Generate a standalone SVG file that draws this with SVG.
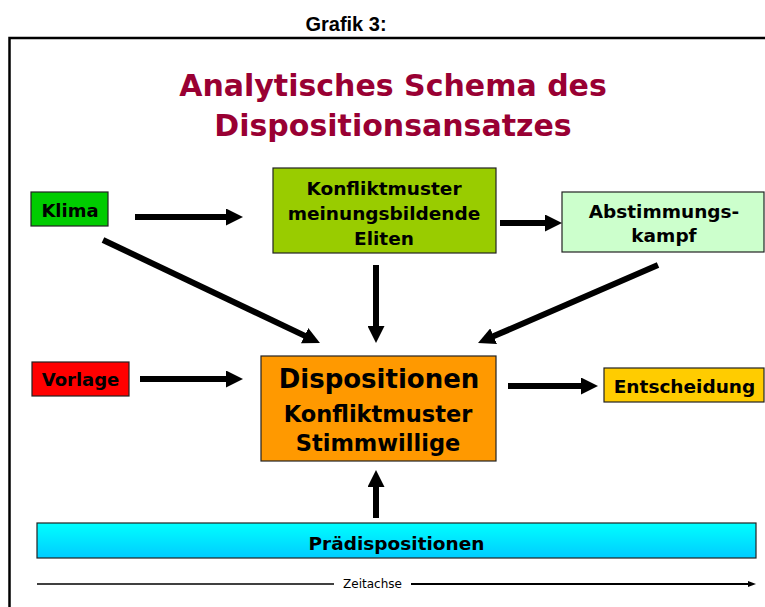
<svg xmlns="http://www.w3.org/2000/svg" width="765" height="607" viewBox="0 0 765 607">
<style>
.box{stroke:#222;stroke-width:1.2}
.t{font-family:"DejaVu Sans",Verdana,sans-serif;font-weight:bold;fill:#000;text-anchor:middle}
.arr{stroke:#000;stroke-width:6;fill:none;marker-end:url(#ah)}
</style>
<defs>
<marker id="ah" viewBox="0 0 17 17" refX="1" refY="8.5" markerWidth="17" markerHeight="17" markerUnits="userSpaceOnUse" orient="auto">
<path d="M0,0 L17,8.5 L0,17 Z" fill="#000"/>
</marker>
<marker id="sh" viewBox="0 0 8 8" refX="1" refY="4" markerWidth="8" markerHeight="8" markerUnits="userSpaceOnUse" orient="auto">
<path d="M0,1 L8,4 L0,7 Z" fill="#000"/>
</marker>
<linearGradient id="cy" x1="0" y1="0" x2="0" y2="1">
<stop offset="0" stop-color="#00FFFF"/>
<stop offset="1" stop-color="#00CCFF"/>
</linearGradient>
</defs>
<rect width="765" height="607" fill="#fff"/>
<text x="346" y="31" font-family="'Liberation Sans',Arial,sans-serif" font-weight="bold" font-size="20" text-anchor="middle">Grafik 3:</text>
<path d="M9.5,607 L9.5,38 L765,38" fill="none" stroke="#000" stroke-width="2.5"/>
<g id="title" font-family="'DejaVu Sans',Verdana,sans-serif" font-weight="bold" font-size="30" fill="#990033" text-anchor="middle">
<text x="393" y="96">Analytisches Schema des</text>
<text x="393" y="136">Dispositionsansatzes</text>
</g>
<g id="klima"><rect class="box" x="31" y="192" width="77" height="34" fill="#00CC00"/><text class="t" x="70" y="217" font-size="18">Klima</text></g>
<g id="konflikt"><rect class="box" x="273" y="168" width="223" height="85" fill="#99CC00"/>
<text class="t" x="384" y="195" font-size="18.5">Konfliktmuster</text>
<text class="t" x="384" y="220" font-size="18.5">meinungsbildende</text>
<text class="t" x="384" y="245" font-size="18.5">Eliten</text></g>
<g id="abstimmung"><rect class="box" x="562" y="192" width="202" height="60" fill="#CCFFCC"/>
<text class="t" x="664" y="218" font-size="18.5">Abstimmungs-</text>
<text class="t" x="664" y="242" font-size="18.5">kampf</text></g>
<g id="vorlage"><rect class="box" x="32" y="362" width="97" height="34" fill="#FF0000"/><text class="t" x="80.5" y="386" font-size="18">Vorlage</text></g>
<g id="dispositionen"><rect class="box" x="261" y="356" width="235" height="105" fill="#FF9900"/>
<text class="t" x="379" y="388" font-size="26">Dispositionen</text>
<text class="t" x="378" y="422" font-size="22.5">Konfliktmuster</text>
<text class="t" x="378" y="451" font-size="22.5">Stimmwillige</text></g>
<g id="entscheidung"><rect class="box" x="604" y="368" width="160" height="34" fill="#FFCC00"/><text class="t" x="684.5" y="393" font-size="18.5">Entscheidung</text></g>
<g id="praedispositionen"><rect class="box" x="37" y="523" width="719" height="35" fill="url(#cy)"/><text class="t" x="396.5" y="550" font-size="18.5">Prädispositionen</text></g>
<g id="connectors">
<line class="arr" x1="135" y1="217" x2="227" y2="217"/>
<line class="arr" x1="500" y1="223" x2="546" y2="223"/>
<line class="arr" x1="103" y1="240" x2="305.5" y2="336.1"/>
<line class="arr" x1="376" y1="265" x2="376" y2="327"/>
<line class="arr" x1="658" y1="265" x2="492.7" y2="336.6"/>
<line class="arr" x1="140" y1="379" x2="227" y2="379"/>
<line class="arr" x1="508" y1="386" x2="582" y2="386"/>
<line class="arr" x1="376" y1="518" x2="376" y2="486"/>
</g>
<g id="zeitachse">
<line x1="37" y1="584" x2="334" y2="584" stroke="#000" stroke-width="1.5"/>
<line x1="411" y1="584" x2="749" y2="584" stroke="#000" stroke-width="2" marker-end="url(#sh)"/>
<text x="372.5" y="588" font-family="'DejaVu Sans',Verdana,sans-serif" font-size="12" text-anchor="middle" fill="#000">Zeitachse</text>
</g>
</svg>
